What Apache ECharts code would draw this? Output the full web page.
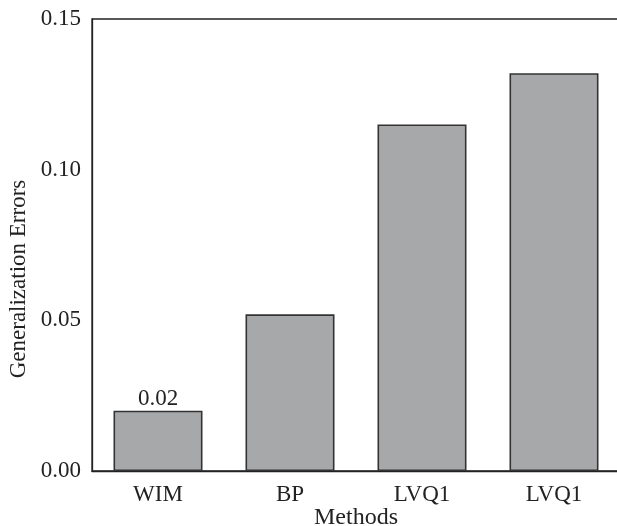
<!DOCTYPE html>
<html>
<head>
<meta charset="utf-8">
<style>
  html, body { margin: 0; padding: 0; background: #fff; }
  #chart { width: 617px; height: 526px; }
</style>
<script src="https://cdn.jsdelivr.net/npm/echarts@6/dist/echarts.min.js"></script>
</head>
<body>
<div id="chart"></div>
<script>
// Generalization error per method
const methods = ['WIM', 'BP', 'LVQ1', 'LVQ1'];
const errors = [0.02, 0.052, 0.115, 0.132];
const labelledIndex = [0];   // bars that carry a value label
const yTicks = { min: 0, max: 0.15, interval: 0.05 };

const FONT = '"Liberation Serif", "Times New Roman", serif';
const INK = '#222';
const FS = 23;

const chart = echarts.init(document.getElementById('chart'), null, { renderer: 'canvas' });

chart.setOption({
  animation: false,
  textStyle: { fontFamily: FONT },
  grid: {
    left: 92, top: 19, width: 528, height: 452,
    containLabel: false,
    outerBoundsMode: 'none',
    show: true, borderColor: INK, borderWidth: 1.3, backgroundColor: 'transparent'
  },
  xAxis: {
    type: 'category',
    data: methods,
    name: 'Methods',
    nameLocation: 'middle',
    nameGap: 35,
    nameMoveOverlap: false,
    nameTextStyle: { color: INK, fontSize: 24, fontFamily: FONT },
    axisLine: { lineStyle: { color: INK, width: 1.3 } },
    axisTick: { show: false },
    axisLabel: { color: INK, fontSize: FS, fontFamily: FONT, margin: 12 },
    splitLine: { show: false }
  },
  yAxis: {
    type: 'value',
    min: yTicks.min, max: yTicks.max, interval: yTicks.interval,
    axisLine: { show: true, lineStyle: { color: INK, width: 1.3 } },
    axisTick: { show: false },
    splitLine: { show: false },
    axisLabel: {
      color: INK, fontSize: FS, fontFamily: FONT, margin: 11,
      formatter: v => v.toFixed(2)
    }
  },
  graphic: [{
    type: 'text',
    x: 19, y: 279,
    rotation: Math.PI / 2,
    style: {
      text: 'Generalization Errors',
      fill: INK,
      font: FS + 'px ' + FONT,
      align: 'center',
      verticalAlign: 'middle'
    }
  }],
  series: [{
    type: 'bar',
    barWidth: 89,
    data: errors.map((v, i) => ({
      value: v,
      label: {
        show: labelledIndex.includes(i),
        position: 'top',
        distance: 0,
        color: INK,
        fontSize: FS,
        fontFamily: FONT,
        formatter: p => p.value.toFixed(2)
      }
    })),
    itemStyle: { color: '#a7a8aa', borderColor: '#333', borderWidth: 1.6 }
  }]
});
</script>
</body>
</html>
